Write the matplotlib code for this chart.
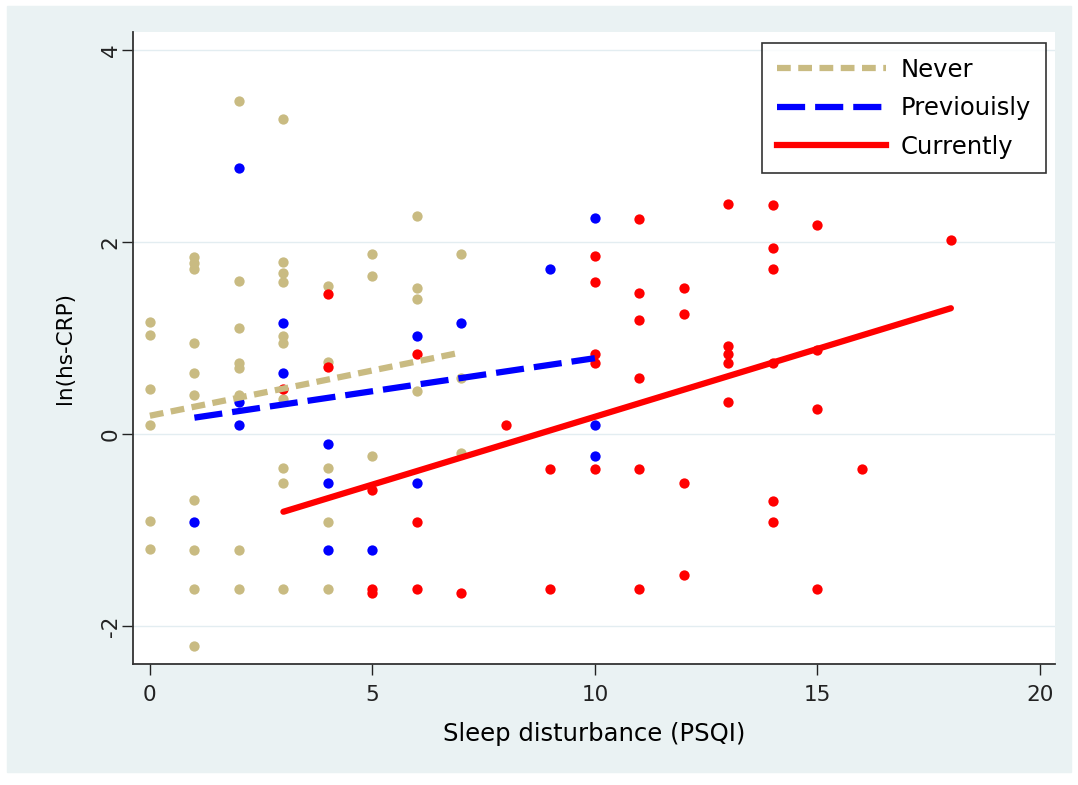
import matplotlib
matplotlib.use("Agg")
import matplotlib.pyplot as plt
from matplotlib.patches import Rectangle
from matplotlib.lines import Line2D

plt.rcParams['axes.unicode_minus'] = False

# sleep disturbance score (x) and ln(hs-CRP) (y), one pair of lists per group
never_x = [0]*6 + [1]*10 + [2]*8 + [3]*10 + [4]*5 + [5]*3 + [6]*4 + [7]*3
never_y = [1.17, 1.03, 0.47, 0.09, -0.91, -1.20,
           1.84, 1.78, 1.72, 0.95, 0.64, 0.41, -0.69, -1.21, -1.61, -2.21,
           3.47, 1.59, 1.10, 0.74, 0.69, 0.41, -1.21, -1.61,
           3.28, 1.79, 1.68, 1.58, 1.02, 0.95, 0.36, -0.35, -0.51, -1.61,
           1.54, 0.75, -0.35, -0.92, -1.61,
           1.88, 1.65, -0.23,
           2.27, 1.52, 1.41, 0.45,
           1.88, 0.58, -0.20]

prev_x = [1, 2, 2, 2, 3, 3, 4, 4, 4, 5, 6, 6, 7, 9, 10, 10, 10]
prev_y = [-0.92, 2.77, 0.33, 0.09, 1.16, 0.64, -0.10, -0.51, -1.21, -1.21,
          1.02, -0.51, 1.16, 1.72, 2.25, 0.09, -0.23]

curr_x = [3, 4, 4, 5, 5, 5, 6, 6, 6, 7, 8, 9, 9,
          10, 10, 10, 10, 10, 11, 11, 11, 11, 11, 11,
          12, 12, 12, 12, 13, 13, 13, 13, 13,
          14, 14, 14, 14, 14, 14, 15, 15, 15, 15, 16, 18]
curr_y = [0.47, 1.46, 0.70, -0.58, -1.61, -1.66, 0.83, -0.92, -1.61, -1.66, 0.09, -0.36, -1.61,
          1.85, 1.58, 0.83, 0.74, -0.36, 2.24, 1.47, 1.19, 0.58, -0.36, -1.61,
          1.52, 1.25, -0.51, -1.47, 2.40, 0.92, 0.83, 0.74, 0.33,
          2.39, 1.94, 1.72, 0.74, -0.70, -0.92, 2.18, 0.87, 0.26, -1.61, -0.36, 2.02]

# fitted lines (end points)
never_fit_x = [0, 7]
never_fit_y = [0.19, 0.85]
prev_fit_x = [1, 10]
prev_fit_y = [0.17, 0.79]
curr_fit_x = [3, 18]
curr_fit_y = [-0.81, 1.31]

labels = ["Never", "Previouisly", "Currently"]

tan = "#c9bb82"
blue = "#0000ff"
red = "#ff0000"
bg = "#eaf2f3"

fig = plt.figure(figsize=(10.78, 7.85), dpi=100, facecolor="white")
fig.patches.append(Rectangle((7/1078, 1-772/785), (1071-7)/1078, (772-6)/785,
                             transform=fig.transFigure, color=bg, zorder=-10))

ax = fig.add_axes([133/1078, 1-664/785, (1055-133)/1078, (664-32)/785])
ax.set_facecolor("white")

ax.scatter(never_x, never_y, s=55, color=tan, zorder=3, linewidths=0)
ax.scatter(prev_x, prev_y, s=55, color=blue, zorder=3, linewidths=0)
ax.scatter(curr_x, curr_y, s=55, color=red, zorder=3, linewidths=0)

ax.plot(never_fit_x, never_fit_y, color=tan, lw=4.5, dashes=(2.2, 1.2), zorder=4)
ax.plot(prev_fit_x, prev_fit_y, color=blue, lw=4.5, dashes=(4.5, 1.6), zorder=4)
ax.plot(curr_fit_x, curr_fit_y, color=red, lw=4.5, solid_capstyle="round", zorder=4)

ax.set_xlim(-0.38, 20.34)
ax.set_ylim(-2.396, 4.1875)
ax.set_xticks([0, 5, 10, 15, 20])
ax.set_yticks([-2, 0, 2, 4])
ax.tick_params(axis="both", direction="out", length=8, width=1, colors="#222222",
               labelsize=15.5)
ax.tick_params(axis="x", pad=7)
ax.tick_params(axis="y", pad=1)
for t in ax.get_yticklabels():
    t.set_rotation(90)
    t.set_va("center")
ax.yaxis.grid(True, color="#e3edf1", lw=1)
ax.set_axisbelow(True)
for s in ["top", "right"]:
    ax.spines[s].set_visible(False)
for s in ["left", "bottom"]:
    ax.spines[s].set_color("#333333")
    ax.spines[s].set_linewidth(1.3)

ax.set_xlabel("Sleep disturbance (PSQI)", fontsize=17.5, labelpad=12)
ax.set_ylabel("ln(hs-CRP)", fontsize=15.5, labelpad=18)

handles = [Line2D([], [], color=tan, lw=4.5, dashes=(2.2, 1.2)),
           Line2D([], [], color=blue, lw=4.5, dashes=(4.5, 1.6)),
           Line2D([], [], color=red, lw=4.5)]
leg = ax.legend(handles, labels, loc="upper right", bbox_to_anchor=(0.9902, 0.9826),
                borderaxespad=0, fontsize=17.5, frameon=True, fancybox=False,
                handlelength=4.5, handletextpad=0.6, labelspacing=0.6, borderpad=0.6)
leg.get_frame().set_edgecolor("black")
leg.get_frame().set_linewidth(1.2)

fig.savefig("out.png", dpi=100, facecolor=fig.get_facecolor())
